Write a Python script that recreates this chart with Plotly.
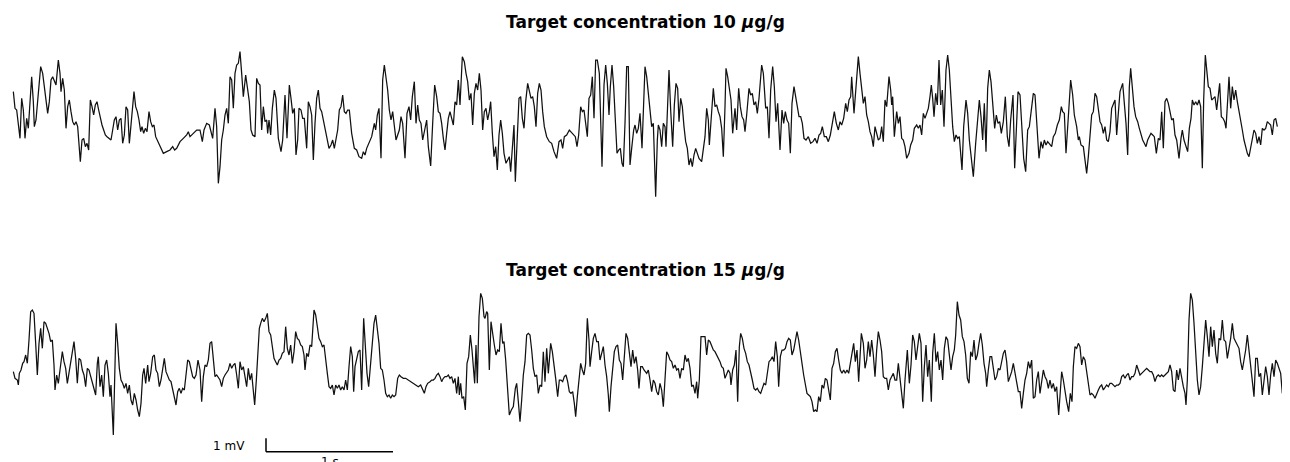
import numpy as np
import plotly.graph_objects as go

FS = 381.0  # samples per second

TITLES = ["Target concentration 10 <i>μ</i>g/g", "Target concentration 15 <i>μ</i>g/g"]

# (sample index, amplitude in µV)
TOP_TRACE = [
(4,2500),(9,1250),(14,1125),(19,0),(24,-1000),(29,2000),(34,1125),(39,-1000),(44,500),(49,-250),
(54,1750),(59,3625),(64,1750),(67,-125),(72,375),(77,1875),(82,3250),(86,4375),(92,3875),(97,2875),
(102,1500),(107,875),(112,1750),(117,3375),(122,3625),(127,3250),(132,3000),(139,4875),(144,3875),(147,2500),
(152,3500),(157,2625),(162,-250),(167,1375),(172,1875),(177,1000),(182,250),(187,0),(192,250),(197,-125),
(202,-1875),(205,-2750),(210,-1125),(215,-1000),(220,-1625),(225,-1375),(230,-1875),(235,1875),(240,1375),(245,750),
(250,1500),(255,1750),(260,1125),(265,500),(270,0),(275,-375),(280,-750),(285,-875),(290,-1000),(297,-1125),
(302,-375),(307,375),(312,625),(317,-375),(322,375),(327,500),(332,-1375),(337,-750),(342,1375),(347,1125),
(352,-1375),(357,125),(362,1625),(366,2500),(371,1375),(376,1000),(381,375),(386,-500),(390,-125),(395,-625),
(400,-250),(405,-500),(411,1000),(416,250),(421,-125),(426,0),(431,-875),(436,-1125),(441,-1500),(446,-1750),
(454,-2125),(464,-2000),(474,-1875),(482,-1625),(488,-1875),(494,-1750),(504,-1250),(514,-1000),(524,-750),(529,-500),
(534,-875),(544,-625),(554,-375),(564,-375),(571,-1250),(576,-375),(584,125),(592,0),(602,-1000),(609,1250),
(614,-125),(619,-4375),(624,-3125),(629,-1125),(634,-375),(639,750),(644,1250),(649,125),(654,3625),(659,3375),
(664,1250),(669,3875),(674,4500),(679,4625),(684,5500),(689,3875),(694,2125),(701,3750),(707,2625),(712,1750),
(717,-375),(722,-750),(729,-875),(734,3500),(739,3125),(744,3000),(749,-375),(754,1375),(759,250),(764,375),
(767,-625),(771,375),(776,-750),(781,1250),(787,2625),(792,2000),(799,-1000),(807,-2000),(812,-1125),(819,2250),
(825,-1000),(832,3000),(837,2000),(842,875),(847,1250),(852,-2250),(857,-1125),(861,1250),(867,1125),(872,500),
(877,500),(884,-1750),(889,1750),(894,1375),(899,750),(904,-2625),(909,125),(914,2000),(919,2625),(924,1250),
(929,1000),(934,375),(939,-250),(944,-1000),(951,-1750),(957,-1500),(962,-1125),(967,-1750),(972,-1000),(977,-375),
(982,1125),(987,1375),(992,2250),(997,1000),(1002,875),(1007,1125),(1012,1125),(1019,-625),(1027,-1750),(1034,-1875),
(1041,-2375),(1049,-2500),(1054,-2000),(1059,-2250),(1064,-1750),(1071,-1375),(1079,-875),(1087,125),(1091,-375),(1096,750),
(1101,1250),(1107,-2500),(1112,3375),(1117,4500),(1122,3625),(1127,2625),(1132,1125),(1137,375),(1142,1000),(1147,-125),
(1152,-1125),(1157,-750),(1162,-375),(1167,625),(1172,125),(1179,-2500),(1185,875),(1191,1375),(1196,375),(1201,2125),
(1207,3250),(1212,125),(1217,1500),(1222,375),(1227,125),(1232,-1125),(1239,-375),(1244,375),(1249,-1625),(1256,-3075),
(1262,125),(1268,3000),(1274,2125),(1279,1000),(1284,875),(1289,125),(1294,-1000),(1299,-1875),(1304,-625),(1309,500),
(1314,1000),(1319,375),(1324,0),(1329,1750),(1334,1500),(1339,3375),(1344,1500),(1351,5125),(1357,4750),(1362,3875),
(1367,3250),(1372,1875),(1377,2375),(1382,0),(1387,2375),(1392,3125),(1397,2625),(1402,3875),(1407,2625),(1412,-375),
(1417,1000),(1422,1250),(1427,375),(1432,1000),(1436,1750),(1441,-625),(1446,-2375),(1451,-1625),(1456,-3375),(1461,-750),
(1466,375),(1471,-625),(1476,-2125),(1482,-2875),(1487,-2625),(1492,-2375),(1496,-3500),(1502,-1625),(1506,0),(1510,-4250),
(1516,-125),(1521,2000),(1526,2125),(1531,500),(1536,-250),(1541,1750),(1547,3125),(1552,2500),(1557,2000),(1562,2125),
(1567,1375),(1572,-125),(1577,2375),(1582,3125),(1587,2625),(1592,1000),(1597,-125),(1604,-875),(1612,-1250),(1619,-1375),
(1626,-2000),(1634,-2500),(1641,-1250),(1647,-1125),(1652,-1750),(1657,-875),(1664,-750),(1672,-375),(1677,-500),(1684,-750),
(1690,-875),(1695,-1625),(1700,-750),(1706,1375),(1711,1000),(1716,1125),(1721,0),(1726,-875),(1731,2000),(1736,2250),
(1741,3625),(1746,500),(1751,4875),(1756,4875),(1762,3875),(1766,1125),(1770,-3125),(1776,3000),(1781,4500),(1786,3125),
(1791,750),(1795,2875),(1800,4500),(1805,2875),(1810,125),(1815,-2125),(1820,-1875),(1825,-1750),(1830,-2875),(1834,-3125),
(1839,125),(1844,4375),(1849,4375),(1854,-3000),(1859,-1750),(1865,-375),(1869,0),(1874,-625),(1879,-250),(1884,875),
(1890,-1750),(1896,3375),(1899,4375),(1904,3625),(1909,2500),(1914,1375),(1919,-125),(1924,125),(1931,-5375),(1936,-1125),
(1939,0),(1944,-375),(1949,-1625),(1954,125),(1959,-125),(1962,-1625),(1967,1375),(1971,4125),(1976,1125),(1982,-1625),
(1987,1500),(1992,3125),(1997,2750),(2001,250),(2006,2000),(2011,1375),(2016,-125),(2021,-1250),(2026,-1750),(2031,-3000),
(2036,-2500),(2041,-3125),(2046,-2250),(2051,-1750),(2056,-2125),(2061,-2500),(2069,-2750),(2074,-1625),(2079,-875),(2084,1250),
(2089,375),(2092,-1500),(2097,625),(2104,2750),(2109,1375),(2114,1500),(2119,1000),(2124,625),(2129,-250),(2134,-2375),
(2139,1375),(2142,4250),(2147,3625),(2152,2625),(2157,1875),(2162,-625),(2169,1250),(2174,-375),(2180,2750),(2185,1375),
(2190,625),(2195,375),(2199,-500),(2204,750),(2211,2750),(2216,2250),(2221,2375),(2226,1500),(2231,1750),(2236,875),
(2241,2000),(2249,4500),(2254,3875),(2261,1250),(2266,1375),(2271,-1000),(2276,2625),(2282,4375),(2287,2875),(2292,250),
(2297,1625),(2304,-1875),(2310,1125),(2315,125),(2320,1000),(2325,375),(2330,125),(2335,-2125),(2340,1625),(2346,2875),
(2351,2000),(2356,1250),(2361,625),(2366,625),(2371,125),(2376,-1000),(2382,-1125),(2389,-875),(2396,-1375),(2403,-1250),
(2409,-1000),(2415,-1375),(2421,-750),(2426,-625),(2431,-125),(2437,-875),(2443,-875),(2449,-1250),(2455,-750),(2461,125),
(2467,1000),(2473,125),(2479,-375),(2484,250),(2489,0),(2495,500),(2501,1625),(2506,1000),(2511,1875),(2516,2125),
(2519,3625),(2526,875),(2531,2375),(2539,5125),(2544,3875),(2549,2625),(2554,1625),(2559,2125),(2564,750),(2569,250),
(2574,-500),(2579,-875),(2584,-1625),(2589,-125),(2594,-625),(2599,-1125),(2604,-1000),(2609,-125),(2614,-1250),(2619,1875),
(2624,1375),(2631,3625),(2636,2625),(2639,1500),(2642,2125),(2647,-875),(2654,1000),(2659,125),(2664,625),(2669,-1000),
(2674,-1125),(2679,-1625),(2684,-2500),(2691,-2125),(2696,-1500),(2702,-1125),(2707,-250),(2714,0),(2719,-250),(2724,0),
(2729,-750),(2734,875),(2739,500),(2744,875),(2749,1250),(2754,2125),(2758,3000),(2762,2000),(2766,625),(2771,2375),
(2776,1500),(2781,4875),(2786,1500),(2791,2625),(2796,-125),(2802,4125),(2807,5250),(2812,4125),(2817,1875),(2822,-125),
(2827,-1250),(2832,-750),(2837,-1000),(2842,-875),(2850,-3375),(2855,-125),(2862,1875),(2867,875),(2872,-1125),(2877,-2500),
(2884,-3875),(2891,-1375),(2896,375),(2902,1875),(2907,625),(2912,-1125),(2917,1625),(2922,-2000),(2927,2750),(2932,4125),
(2937,3250),(2942,1875),(2948,-250),(2953,750),(2958,125),(2963,250),(2968,-625),(2974,250),(2980,2125),(2986,-875),
(2991,-1625),(2996,375),(3003,2250),(3008,-3250),(3013,0),(3018,2500),(3024,2250),(3030,0),(3035,-2500),(3041,-3500),
(3047,-375),(3052,-125),(3058,1375),(3064,2375),(3069,2250),(3074,375),(3081,-2500),(3087,-1250),(3092,-1750),(3097,-1125),
(3102,-1500),(3107,-1250),(3114,-1500),(3119,-1625),(3124,-875),(3130,-625),(3136,0),(3142,375),(3148,1375),(3152,1000),
(3157,875),(3162,-2125),(3169,625),(3176,3375),(3182,2250),(3187,750),(3194,-125),(3199,-1125),(3202,-875),(3207,-1500),
(3214,-1625),(3219,-2875),(3224,-3625),(3229,-2375),(3234,-625),(3239,750),(3244,1000),(3249,2375),(3254,2125),(3259,1000),
(3264,250),(3269,0),(3274,-625),(3279,-125),(3284,-1125),(3289,-1250),(3294,-500),(3299,1250),(3304,1500),(3309,1875),
(3314,-750),(3319,625),(3324,2500),(3332,3125),(3337,1750),(3342,125),(3347,-2250),(3352,2875),(3356,4250),(3361,2500),
(3366,1375),(3371,625),(3377,250),(3382,-250),(3387,-750),(3392,-1125),(3397,-1375),(3402,-1625),(3407,-1125),(3412,-875),
(3417,-625),(3422,-750),(3427,-875),(3433,-2125),(3439,-1000),(3444,-1125),(3449,1000),(3454,-1750),(3459,1750),(3464,2000),
(3469,1625),(3474,1000),(3479,375),(3484,500),(3489,-750),(3494,-1125),(3501,-2500),(3507,-1000),(3511,-375),(3516,-1125),
(3522,-1625),(3527,-2000),(3532,-250),(3537,500),(3541,1875),(3546,1500),(3551,1750),(3556,1500),(3561,1875),(3566,1375),
(3571,-3250),(3575,1875),(3580,5250),(3585,4125),(3589,2875),(3594,2750),(3599,1875),(3604,2000),(3609,2125),(3614,1125),
(3619,2375),(3623,3125),(3628,625),(3633,500),(3638,250),(3642,-250),(3647,1875),(3651,3625),(3656,1250),(3661,2875),
(3666,1875),(3671,2625),(3676,1750),(3681,1125),(3686,250),(3691,-375),(3696,-1125),(3701,-1750),(3706,-2125),(3711,-2375),
(3716,-1750),(3721,-1000),(3726,-375),(3731,-625),(3736,-1375),(3741,-875),(3746,-1500),(3751,-250),(3756,-375),(3761,-250),
(3766,250),(3771,125),(3776,0),(3781,-750),(3786,375),(3791,500),(3796,-125),
]

BOTTOM_TRACE = [
(4,-500),(9,-1000),(16,-1125),(19,-1500),(22,-625),(27,-375),(32,125),(36,250),(41,750),(46,125),
(51,1875),(56,4000),(61,4125),(66,3875),(71,1625),(76,-750),(81,1625),(86,2750),(91,1250),(96,3250),
(101,3125),(106,2750),(111,2375),(116,1750),(121,1875),(126,0),(129,-1875),(134,-750),(139,-1375),(144,-375),
(151,1000),(156,250),(161,-250),(166,-1375),(171,-625),(177,375),(186,1750),(191,500),(196,-1375),(201,500),
(206,375),(211,-375),(216,-750),(221,-1625),(226,-250),(231,-375),(236,-875),(241,-1375),(246,-1750),(251,-2250),
(256,125),(259,625),(264,-1625),(269,-750),(274,-2375),(279,0),(284,375),(289,-625),(294,-2375),(297,-1500),
(304,-5250),(307,-1125),(312,3125),(317,1625),(322,-250),(327,-1125),(332,-1375),(337,-1750),(342,-1375),(347,-2125),
(352,-1500),(357,-2625),(362,-3000),(367,-2125),(372,-2625),(377,-3375),(382,-3875),(387,-2875),(392,-750),(396,-250),
(401,-1375),(407,0),(411,-1250),(416,-625),(422,625),(427,750),(432,-375),(437,-625),(442,-1625),(447,-1125),
(452,-125),(457,500),(462,-500),(467,-875),(472,-1125),(477,-1250),(482,-1875),(487,-2250),(492,-3000),(497,-2000),
(502,-1750),(507,-2125),(512,-1750),(517,-1875),(522,-500),(527,375),(532,250),(537,-375),(542,-875),(547,-1000),
(552,-750),(558,375),(564,-375),(569,-2750),(574,-875),(579,0),(584,-125),(589,375),(594,1625),(599,1750),
(604,625),(609,-875),(614,-750),(619,-1000),(624,-1125),(629,-1625),(634,-1000),(639,-750),(644,-500),(649,-375),
(654,125),(659,-250),(664,0),(669,125),(674,-750),(679,-1750),(684,250),(689,-375),(694,-125),(699,-875),
(704,-1625),(709,-250),(714,-1125),(719,-625),(724,-1875),(728,-3000),(733,-1125),(737,1125),(742,2750),(746,3125),
(751,3500),(756,3250),(761,3500),(766,3875),(771,2500),(776,2250),(781,1500),(786,500),(791,250),(796,0),
(801,375),(806,500),(811,875),(816,1000),(821,2875),(826,1250),(831,750),(836,1500),(841,125),(846,1000),
(851,2500),(856,2000),(861,1875),(866,1500),(871,1375),(876,750),(879,-375),(884,875),(889,625),(894,1500),
(899,1375),(906,4125),(911,3750),(916,2875),(921,2000),(926,1750),(931,1375),(936,1500),(941,625),(946,-625),
(951,-1625),(956,-1750),(961,-1500),(966,-2250),(971,-1500),(976,-1750),(981,-1500),(986,-1875),(991,-1625),(996,-1875),
(1001,-1125),(1006,-1875),(1011,-125),(1016,1375),(1021,625),(1025,-2000),(1029,-125),(1034,500),(1039,1000),(1044,1125),
(1049,-1875),(1055,3500),(1060,1625),(1065,-625),(1070,-1625),(1075,0),(1080,1375),(1086,3125),(1091,3750),(1096,2875),
(1101,1625),(1106,-250),(1111,-375),(1116,-1125),(1121,-2125),(1126,-2375),(1131,-2250),(1136,-2500),(1141,-2250),(1146,-2375),
(1151,-2250),(1157,-1000),(1162,-750),(1167,-875),(1174,-1000),(1181,-1000),(1189,-1125),(1197,-1250),(1204,-1375),(1211,-1500),
(1219,-1625),(1226,-1500),(1231,-1750),(1237,-2125),(1242,-1625),(1247,-1375),(1254,-1250),(1259,-1125),(1264,-1125),(1269,-1000),
(1274,-750),(1279,-625),(1284,-875),(1289,-1250),(1294,-1000),(1299,-875),(1304,-875),(1309,-750),(1314,-1000),(1319,-875),
(1324,-1375),(1329,-1000),(1334,-2125),(1339,-875),(1342,-2250),(1346,-1375),(1350,-2500),(1355,-2375),(1360,-3375),(1365,125),
(1370,625),(1375,2250),(1380,1125),(1385,-875),(1388,-1375),(1392,1500),(1396,-1375),(1401,3625),(1406,5375),(1411,5000),
(1416,3625),(1419,3500),(1424,4000),(1427,3875),(1432,-375),(1437,3250),(1442,2250),(1447,1500),(1452,750),(1457,1125),
(1462,1000),(1467,3125),(1472,1625),(1476,1750),(1481,375),(1486,-1625),(1492,-3750),(1498,-3375),(1504,-3125),(1510,-1750),
(1514,-1375),(1519,-2750),(1524,-4250),(1529,-2625),(1534,-750),(1539,250),(1544,2250),(1549,2375),(1554,2250),(1559,1125),
(1564,-250),(1569,-875),(1574,-750),(1579,-2125),(1584,-1500),(1589,-1625),(1594,1000),(1599,-1250),(1604,1250),(1609,-625),
(1616,1625),(1621,1000),(1626,125),(1631,-1000),(1637,-2375),(1642,-1125),(1647,-1125),(1652,-1250),(1657,-875),(1662,-750),
(1667,-1250),(1672,-2000),(1677,-2125),(1682,-2000),(1687,-2875),(1691,-3875),(1696,-2375),(1701,-1250),(1706,125),(1711,-375),
(1716,-750),(1721,125),(1726,3500),(1731,1875),(1734,-125),(1739,1000),(1744,2000),(1749,2375),(1754,1750),(1759,1750),
(1764,375),(1769,875),(1774,1375),(1779,0),(1784,-875),(1789,-2250),(1792,-3500),(1797,-1625),(1802,0),(1807,1000),
(1812,1375),(1817,1500),(1822,375),(1827,125),(1832,-1125),(1837,875),(1842,2375),(1847,2000),(1852,1125),(1857,-125),
(1862,1125),(1867,125),(1872,625),(1877,-375),(1881,-1750),(1886,-125),(1891,-125),(1896,-375),(1904,-625),(1909,-375),
(1914,-1125),(1919,-2000),(1924,-1125),(1929,-1375),(1934,-2000),(1939,-2250),(1944,-1375),(1949,-1875),(1954,-3125),(1959,-875),
(1964,1000),(1969,750),(1974,375),(1979,250),(1984,-250),(1989,0),(1994,-375),(1999,-250),(2004,-1000),(2009,-250),
(2014,-375),(2019,750),(2024,250),(2029,500),(2034,-250),(2039,-1625),(2044,-1500),(2049,-2125),(2054,-1250),(2057,-2500),
(2062,-1125),(2067,2125),(2074,2125),(2079,2125),(2084,750),(2089,1875),(2094,1750),(2099,1375),(2104,1125),(2109,1000),
(2114,750),(2119,500),(2124,250),(2129,-125),(2134,-250),(2139,-1000),(2144,-625),(2149,-375),(2154,-625),(2157,-1500),
(2162,-375),(2167,0),(2172,1125),(2177,-2750),(2182,1375),(2186,2375),(2191,2000),(2196,1250),(2201,875),(2206,250),
(2211,0),(2216,-500),(2221,-1125),(2226,-1750),(2231,-1875),(2236,-1750),(2241,-2000),(2246,-2125),(2251,-1750),(2256,-1375),
(2261,-1500),(2266,-500),(2271,250),(2276,375),(2281,625),(2286,250),(2291,1750),(2296,625),(2300,-1625),(2305,625),
(2310,1125),(2315,1125),(2320,1250),(2325,1750),(2330,2000),(2335,1875),(2340,750),(2345,1125),(2350,2000),(2355,2500),
(2360,1875),(2365,750),(2370,125),(2375,-750),(2380,-1375),(2385,-2125),(2390,-2250),(2395,-2375),(2400,-2750),(2405,-3500),
(2410,-3375),(2415,-3500),(2420,-2375),(2425,-2750),(2430,-1500),(2435,-1750),(2440,-1000),(2445,-1125),(2450,-1875),(2455,-2625),
(2460,-250),(2465,125),(2470,1000),(2475,1250),(2480,375),(2485,-375),(2490,-625),(2495,-375),(2500,-625),(2505,-375),
(2510,-625),(2515,250),(2520,1000),(2525,1625),(2530,250),(2535,1125),(2540,-1250),(2545,1125),(2548,2375),(2554,1625),
(2559,-250),(2564,375),(2569,1750),(2574,625),(2579,1875),(2584,750),(2589,-875),(2594,1125),(2599,2500),(2604,1875),
(2609,1000),(2614,-875),(2619,-1000),(2624,-1000),(2629,-1875),(2634,-1125),(2639,-875),(2644,-625),(2649,-1125),(2654,-1125),
(2659,125),(2664,-1000),(2669,-2125),(2674,-3250),(2679,-1125),(2686,1125),(2692,-1375),(2697,0),(2702,2250),(2707,1750),
(2712,375),(2717,1625),(2722,2375),(2727,1625),(2732,-2750),(2737,-125),(2742,1500),(2747,-875),(2752,375),(2758,-2750),
(2762,875),(2767,2375),(2772,250),(2777,1000),(2782,-375),(2787,375),(2792,-1125),(2797,1250),(2802,2125),(2807,1875),
(2812,625),(2817,-375),(2822,625),(2827,1125),(2831,2250),(2836,4750),(2841,3750),(2846,3375),(2851,2125),(2856,1750),
(2861,750),(2866,-1000),(2871,-1375),(2876,1000),(2881,625),(2886,1875),(2891,375),(2896,750),(2901,1625),(2906,2375),
(2911,1500),(2916,125),(2921,-625),(2924,-1625),(2929,-375),(2934,625),(2939,625),(2944,-125),(2949,-1125),(2954,-875),
(2959,-250),(2964,-375),(2969,375),(2974,875),(2979,1125),(2984,250),(2989,-1250),(2994,-875),(2999,-500),(3004,125),
(3009,-625),(3014,-1250),(3019,-2000),(3024,-2000),(3029,-3250),(3034,-2125),(3039,-1125),(3044,-625),(3049,250),(3054,-250),
(3059,375),(3064,-2500),(3069,-2375),(3074,-1125),(3079,-500),(3084,-2125),(3089,-1125),(3094,-375),(3099,-875),(3104,-1125),
(3109,-1750),(3114,-1125),(3119,-1750),(3124,-1375),(3129,-2000),(3134,-1625),(3140,-3750),(3144,-1875),(3149,-500),(3154,-1125),
(3159,-2125),(3164,-2750),(3170,-3500),(3175,-2125),(3180,-2750),(3184,-125),(3189,1375),(3194,1250),(3199,1625),(3204,1375),
(3209,0),(3214,625),(3219,375),(3224,-625),(3229,-1375),(3234,-2250),(3239,-2125),(3244,-2250),(3249,-2500),(3254,-2125),
(3259,-1875),(3264,-1625),(3269,-1500),(3274,-1875),(3279,-1625),(3284,-1500),(3289,-1625),(3294,-1375),(3299,-1375),(3304,-1500),
(3309,-1625),(3314,-1500),(3319,-1500),(3324,-1375),(3329,-875),(3334,-750),(3339,-1000),(3344,-750),(3349,-625),(3354,-1125),
(3359,-875),(3364,-875),(3369,-625),(3374,0),(3379,-375),(3384,-750),(3389,-625),(3394,-500),(3399,-375),(3404,-250),
(3409,-375),(3414,-500),(3419,-500),(3424,-750),(3429,-1250),(3434,-875),(3439,-750),(3444,-875),(3449,-750),(3454,-875),
(3459,-750),(3464,-625),(3469,-500),(3474,0),(3479,-500),(3484,-1875),(3489,-2000),(3494,-375),(3499,-1125),(3504,-250),
(3509,-1125),(3514,-1625),(3519,-2125),(3522,-3000),(3526,-1125),(3531,3375),(3536,5375),(3541,4875),(3546,3125),(3551,375),
(3556,-1125),(3561,-2250),(3566,-1625),(3571,-125),(3576,2125),(3581,3375),(3586,2125),(3591,625),(3596,2875),(3601,1375),
(3606,2625),(3611,875),(3616,125),(3621,2000),(3626,1875),(3631,3375),(3636,1875),(3641,1750),(3646,500),(3651,1250),
(3656,2000),(3661,3125),(3666,2000),(3671,1750),(3676,1500),(3681,1250),(3686,250),(3691,-375),(3696,375),(3701,1125),
(3706,2250),(3711,1125),(3716,125),(3721,-1125),(3726,-2375),(3731,500),(3736,500),(3741,-875),(3746,-625),(3751,-2250),
(3756,-1125),(3761,-125),(3766,-875),(3771,-2250),(3776,-750),(3781,125),(3786,-875),(3791,375),(3796,125),(3801,-250),
(3806,-625),(3811,-2125),(3816,-1250),
]

SCALE_T0 = 2.0        # s, start of scale bar
SCALE_DT = 1.0        # s
SCALE_V0 = -6500      # µV, base of scale bar
SCALE_DV = 1000       # µV (1 mV)

# page body adds an 8 px offset; the figure is sized to fill the rest of the window
W, H = 1282, 454
OFF = 8

X_RANGE = [(3 * OFF - 36) / FS, (3 * (W + OFF) - 36) / FS]
Y_RANGE = [-7275, 6375]

fig = go.Figure()
for trace, ax in ((TOP_TRACE, ""), (BOTTOM_TRACE, "2")):
    arr = np.array(trace, dtype=float)
    fig.add_trace(go.Scatter(
        x=arr[:, 0] / FS, y=arr[:, 1], mode="lines",
        line=dict(color="#111111", width=1.25),
        xaxis="x" + ax, yaxis="y" + ax, hoverinfo="skip", showlegend=False))

axis_common = dict(visible=False, showgrid=False, zeroline=False, fixedrange=True)
fig.update_layout(
    width=W, height=H,
    margin=dict(l=0, r=0, t=0, b=0),
    paper_bgcolor="white", plot_bgcolor="white",
    xaxis=dict(domain=[0, 1], range=X_RANGE, anchor="y", **axis_common),
    yaxis=dict(domain=[1 - (222 - OFF) / H, 1 - (40 - OFF) / H], range=Y_RANGE, anchor="x", **axis_common),
    xaxis2=dict(domain=[0, 1], range=X_RANGE, anchor="y2", **axis_common),
    yaxis2=dict(domain=[0, 1 - (280 - OFF) / H], range=Y_RANGE, anchor="x2", **axis_common),
    font=dict(family="DejaVu Sans", color="black"),
)

# titles
for title, ypx in zip(TITLES, (22, 270)):
    fig.add_annotation(text="<b>" + title + "</b>", xref="paper", yref="paper",
                       x=0.5 - OFF / 2 / W, y=1 - (ypx - OFF) / H, xanchor="center", yanchor="middle",
                       showarrow=False, font=dict(family="DejaVu Sans", size=17, color="black"))

# scale bar
fig.add_shape(type="line", xref="x2", yref="y2",
              x0=SCALE_T0, x1=SCALE_T0 + SCALE_DT, y0=SCALE_V0, y1=SCALE_V0,
              line=dict(color="black", width=1.5))
fig.add_shape(type="line", xref="x2", yref="y2",
              x0=SCALE_T0, x1=SCALE_T0, y0=SCALE_V0, y1=SCALE_V0 + SCALE_DV,
              line=dict(color="black", width=1.5))
fig.add_annotation(text="1 mV", xref="x2", yref="y2",
                   x=SCALE_T0 - 0.15, y=SCALE_V0 + SCALE_DV * 0.45,
                   xanchor="right", yanchor="middle", showarrow=False,
                   font=dict(size=12, color="black"))
fig.add_annotation(text="1 s", xref="x2", yref="y2",
                   x=SCALE_T0 + SCALE_DT / 2, y=SCALE_V0,
                   xanchor="center", yanchor="top", yshift=-1, showarrow=False,
                   font=dict(size=12, color="black"))

fig.write_html("out.html")
